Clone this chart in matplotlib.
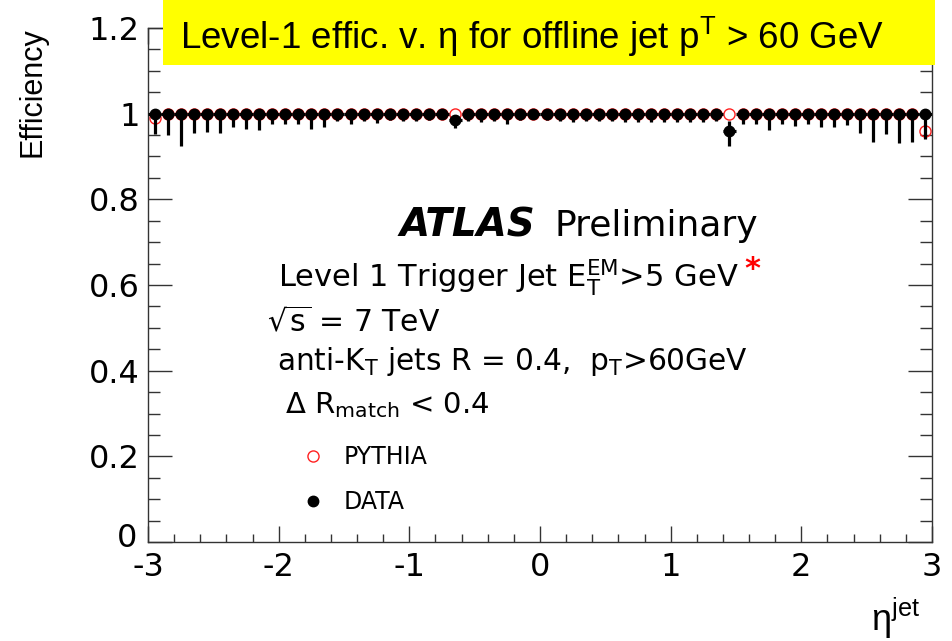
import numpy as np
import matplotlib.pyplot as plt
from matplotlib.patches import Rectangle
from matplotlib.ticker import MultipleLocator, FixedLocator
from matplotlib.transforms import ScaledTranslation

plt.rcParams['font.family'] = ['DejaVu Sans']
plt.rcParams['mathtext.default'] = 'regular'
plt.rcParams['axes.unicode_minus'] = False

# eta binning: 60 bins of width 0.1 between -3 and 3
eta_edges = np.linspace(-3, 3, 61)
eta = 0.5 * (eta_edges[:-1] + eta_edges[1:])
half_width = 0.5 * np.diff(eta_edges)

# L1 jet trigger efficiency in data
data_eff = [1.0] * 60
data_eff[23] = 0.985   # eta = -0.65
data_eff[44] = 0.960   # eta = 1.45
data_err_lo = [
    0.048, 0.049, 0.075, 0.046, 0.042, 0.046, 0.032, 0.036, 0.038, 0.023,
    0.023, 0.023, 0.035, 0.032, 0.016, 0.025, 0.016, 0.021, 0.015, 0.017,
    0.016, 0.015, 0.013, 0.019, 0.016, 0.019, 0.016, 0.025, 0.015, 0.013,
    0.015, 0.016, 0.020, 0.017, 0.016, 0.016, 0.019, 0.020, 0.020, 0.019,
    0.019, 0.020, 0.020, 0.017, 0.035, 0.025, 0.025, 0.038, 0.025, 0.029,
    0.025, 0.032, 0.032, 0.026, 0.044, 0.067, 0.048, 0.069, 0.067, 0.059,
]
data_err_hi = [0.0] * 60
data_err_hi[23] = 0.012
data_err_hi[44] = 0.022

# PYTHIA efficiency
pythia_eff = [1.0] * 60
pythia_eff[0] = 0.989
pythia_eff[59] = 0.960

W, H = 952, 641
fig = plt.figure(figsize=(W / 100, H / 100), dpi=100)
ax = fig.add_axes([148 / W, 1 - 542 / H, (932 - 148) / W, (542 - 28) / H])

pythia, = ax.plot(eta, pythia_eff, 'o', ms=8, mfc='none', mec='#ff2020',
                  mew=1.0, zorder=2, label='PYTHIA')
eb = ax.errorbar(eta, data_eff, yerr=[data_err_lo, data_err_hi], xerr=half_width,
                 fmt='o', color='black', ms=7.5, elinewidth=2.3, capsize=0, zorder=3)
data_line = eb.lines[0]

ax.set_xlim(-3, 3)
ax.set_ylim(0, 1.2)

ax.xaxis.set_major_locator(FixedLocator([-3, -2, -1, 0, 1, 2, 3]))
ax.xaxis.set_minor_locator(MultipleLocator(0.2))
ax.set_xticklabels(['-3', '-2', '-1', '0', '1', '2', '3'])
ax.yaxis.set_major_locator(FixedLocator([0, 0.2, 0.4, 0.6, 0.8, 1.0, 1.2]))
ax.yaxis.set_minor_locator(MultipleLocator(0.05))
ax.set_yticklabels(['0', '0.2', '0.4', '0.6', '0.8', '1', '1.2'])

ax.tick_params(axis='both', which='both', direction='in', top=True, right=True,
               colors='#333333', labelcolor='black', labelsize=23, width=1)
ax.tick_params(axis='x', which='major', length=11.5, pad=7)
ax.tick_params(axis='x', which='minor', length=5.8)
ax.tick_params(axis='y', which='major', length=17.3, pad=6)
ax.tick_params(axis='y', which='minor', length=8.6)
for s in ax.spines.values():
    s.set_color('#333333')
    s.set_linewidth(1.0)

# lift the y "0" label a little so it clears the x "-3"
zero_lbl = ax.get_yticklabels()[0]
zero_lbl.set_transform(zero_lbl.get_transform() +
                       ScaledTranslation(-2 / 72, 5 / 72, fig.dpi_scale_trans))

# axis titles
fig.text(33 / W, 1 - 92 / H, 'Efficiency', rotation=90, ha='center', va='center',
         fontsize=22, family=['Liberation Sans'])
fig.text(920 / W, 1 - 618 / H, 'η$^{jet}$', ha='right', va='center',
         fontsize=26, family=['Liberation Sans'])

# labels inside the frame
fig.text(535 / W, 1 - 226 / H, 'ATLAS', fontsize=28, fontweight='bold',
         style='italic', ha='right', va='center')
fig.text(554 / W, 1 - 226 / H, 'Preliminary', fontsize=26, va='center')
fig.text(278 / W, 1 - 278 / H, 'Level 1 Trigger Jet E$_{T}^{EM}$>5 GeV',
         fontsize=22, va='center')
fig.text(744 / W, 1 - 270 / H, '*', fontsize=22, color='red', va='center',
         fontweight='bold')
fig.text(267 / W, 1 - 322 / H, r'$\sqrt{s}$ = 7 TeV', fontsize=21.5, va='center')
fig.text(277 / W, 1 - 362 / H, 'anti-K$_{T}$ jets R = 0.4,  p$_{T}$>60GeV',
         fontsize=21.3, va='center')
fig.text(285 / W, 1 - 405 / H, 'Δ R$_{match}$ < 0.4', fontsize=21, va='center')

ax.legend(handles=[pythia, data_line], labels=['PYTHIA', 'DATA'],
          loc='upper left', bbox_to_anchor=(287 / W, 1 - 433 / H),
          bbox_transform=fig.transFigure, frameon=False, fontsize=17,
          handlelength=1.2, handletextpad=0.7, labelspacing=0.9, borderpad=0)

# slide heading on a yellow banner
fig.add_artist(Rectangle((163 / W, 1 - 65 / H), (935 - 163) / W, 65 / H,
                         transform=fig.transFigure, facecolor='#ffff00',
                         edgecolor='none', zorder=5))
fig.text(180 / W, 1 - 37 / H, 'Level-1 effic. v. η for offline jet p$^{T}$ > 60 GeV',
         fontsize=26.5, family=['Liberation Sans'], va='center', zorder=6)

fig.savefig('out.png', dpi=100)
